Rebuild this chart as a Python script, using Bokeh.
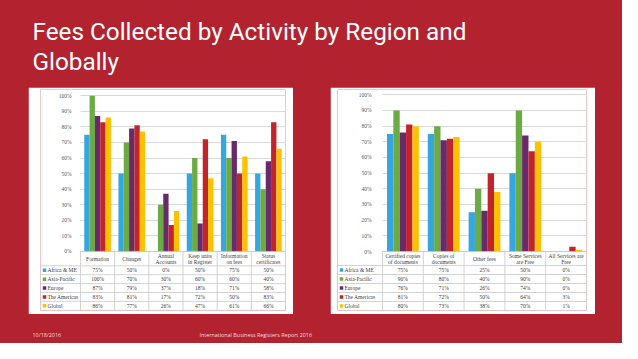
from bokeh.plotting import figure
from bokeh.layouts import column, row
from bokeh.models import Range1d, FixedTicker, PrintfTickFormatter, ColumnDataSource
from bokeh.core.properties import value
from bokeh.embed import file_html
from bokeh.resources import INLINE

# ---------------- data ----------------
SERIES = ["Africa & ME", "Asia-Pacific", "Europe", "The Americas", "Global"]
COLORS = ["#35A7DE", "#6BAA45", "#6A2A6A", "#C1242B", "#FFC000"]

ACT1 = ["Formation", "Changes", "Annual\nAccounts", "Keep units\nin Register",
        "Information\non fees", "Status\ncertificates"]
AFRICA1 = [75, 50, 0, 50, 75, 50]
ASIA1 = [100, 70, 30, 60, 60, 40]
EUROPE1 = [87, 79, 37, 18, 71, 58]
AMERICAS1 = [83, 81, 17, 72, 50, 83]
GLOBAL1 = [86, 77, 26, 47, 61, 66]

ACT2 = ["Certified copies\nof documents", "Copies of\ndocuments", "Other fees",
        "Some Services\nare Free", "All Services are\nFree"]
AFRICA2 = [75, 75, 25, 50, 0]
ASIA2 = [90, 80, 40, 90, 0]
EUROPE2 = [76, 71, 26, 74, 0]
AMERICAS2 = [81, 72, 50, 64, 3]
GLOBAL2 = [80, 73, 38, 70, 1]

Y_TICKS = list(range(0, 101, 10))

TITLE_LINES = ["Fees Collected by Activity by Region and", "Globally"]
FOOTER_DATE = "10/18/2016"
FOOTER_TEXT = "International Business Registers Report 2016"

# ---------------- style ----------------
BG = "#B3222F"
GRID = "#D9D9D9"
TABLE_LINE = "#C8C8C8"
TXT = "#404040"
SERIF = "Liberation Serif"
SMALL = "5.5px"
W = 622


def blank(w, h):
    f = figure(width=w, height=h, toolbar_location=None, output_backend="svg",
               x_range=Range1d(0, w), y_range=Range1d(0, h),
               x_axis_location=None, y_axis_location=None,
               min_border=0, background_fill_color=BG, border_fill_color=BG,
               outline_line_color=None)
    f.grid.visible = False
    return f


def panel(cats, vals, fig_w, fig_h, frame_left, legend_px, cat_px, y100, y0,
          frame_top, frame_bottom, header_px, row_px, standoff):
    n = len(cats)
    k = (y0 - y100) / 100.0
    legend_u = legend_px / cat_px
    frame_w = int(round(legend_px + n * cat_px))
    frame_h = frame_bottom - frame_top
    y_top = 100 + (y100 - frame_top) / k
    y_bot = -(frame_bottom - y0) / k

    p = figure(frame_width=frame_w, frame_height=frame_h,
               toolbar_location=None, output_backend="svg",
               x_range=Range1d(-legend_u, n), y_range=Range1d(y_bot, y_top),
               x_axis_location=None,
               min_border_left=frame_left, min_border_right=fig_w - frame_left - frame_w,
               min_border_top=frame_top, min_border_bottom=fig_h - frame_bottom,
               background_fill_color="white", border_fill_color="white",
               outline_line_color=None)

    ax = p.yaxis[0]
    ax.fixed_location = 0
    ax.ticker = FixedTicker(ticks=Y_TICKS)
    ax.formatter = PrintfTickFormatter(format="%d%%")
    ax.axis_line_color = None
    ax.major_tick_line_color = None
    ax.minor_tick_line_color = None
    ax.major_label_text_font = SERIF
    ax.major_label_text_font_size = SMALL
    ax.major_label_text_color = "#595959"
    ax.major_label_standoff = standoff

    p.xgrid.visible = False
    p.ygrid.ticker = FixedTicker(ticks=Y_TICKS)
    p.ygrid.grid_line_color = GRID
    p.ygrid.grid_line_width = 1
    try:
        p.ygrid.cross_bounds = (0, n)
    except Exception:
        pass

    # bars
    step = 0.156
    for j, (vs, col) in enumerate(zip(vals, COLORS)):
        src = ColumnDataSource(dict(x=[i + 0.5 + (j - 2) * step for i in range(n)], top=vs))
        p.vbar(x="x", top="top", bottom=0, width=step, source=src,
               fill_color=col, line_color=None)

    # table
    hb = -header_px / k
    rows = [hb - i * row_px / k for i in range(len(SERIES) + 1)]
    xs0 = [0] + [-legend_u] * len(rows) + [-legend_u] + list(range(n + 1))
    xs1 = [n] + [n] * len(rows) + [-legend_u] + list(range(n + 1))
    ys0 = [0] + rows + [rows[0]] + [0] * (n + 1)
    ys1 = [0] + rows + [rows[-1]] + [rows[-1]] * (n + 1)
    p.segment(x0=xs0, y0=ys0, x1=xs1, y1=ys1, line_color=TABLE_LINE, line_width=0.8)

    p.text(x=[i + 0.5 for i in range(n)], y=[hb / 2] * n, text=cats,
           text_font=value(SERIF), text_font_size=SMALL, text_color=TXT,
           text_align="center", text_baseline="middle", text_line_height=1.0)

    tx, ty, tt = [], [], []
    for j, vs in enumerate(vals):
        yc = (rows[j] + rows[j + 1]) / 2
        for i, v in enumerate(vs):
            tx.append(i + 0.5)
            ty.append(yc)
            tt.append(f"{v}%")
    p.text(x=tx, y=ty, text=tt, text_font=value(SERIF), text_font_size=SMALL,
           text_color=TXT, text_align="center", text_baseline="middle")

    ycs = [(rows[j] + rows[j + 1]) / 2 for j in range(len(SERIES))]
    p.scatter(x=[-legend_u + 4 / cat_px] * len(SERIES), y=ycs, marker="square",
              size=3.5, fill_color=COLORS, line_color=None)
    p.text(x=[-legend_u + 7 / cat_px] * len(SERIES), y=ycs, text=SERIES,
           text_font=value(SERIF), text_font_size=SMALL, text_color=TXT,
           text_align="left", text_baseline="middle")
    return p


p1 = panel(ACT1, [AFRICA1, ASIA1, EUROPE1, AMERICAS1, GLOBAL1],
           fig_w=265, fig_h=227, frame_left=12, legend_px=40, cat_px=34.17,
           y100=8.3, y0=163.9, frame_top=2, frame_bottom=223,
           header_px=14.4, row_px=8.9, standoff=3)
p2 = panel(ACT2, [AFRICA2, ASIA2, EUROPE2, AMERICAS2, GLOBAL2],
           fig_w=265, fig_h=227, frame_left=7, legend_px=45, cat_px=40.8,
           y100=7.3, y0=164.0, frame_top=2, frame_bottom=223,
           header_px=14.0, row_px=9.0, standoff=5)

# title
top = blank(W, 87)
top.text(x=[32, 32], y=[56, 26], text=TITLE_LINES, text_font=value("Roboto"),
         text_font_size="24.3px", text_color="white", text_align="left",
         text_baseline="alphabetic")

# footer
bot = blank(W, 29)
bot.text(x=[32, 199], y=[8.5, 8.5], text=[FOOTER_DATE, FOOTER_TEXT],
         text_font=value("Open Sans"), text_font_size="5.4px", text_color="#F6DCDF",
         text_align="left", text_baseline="middle")

mid = row(blank(28, 227), p1, blank(37, 227), p2, blank(27, 227),
          spacing=0, styles={"background-color": BG})
layout = column(top, mid, bot, spacing=0, styles={"background-color": BG})

open("out.html", "w").write(file_html(layout, INLINE))
